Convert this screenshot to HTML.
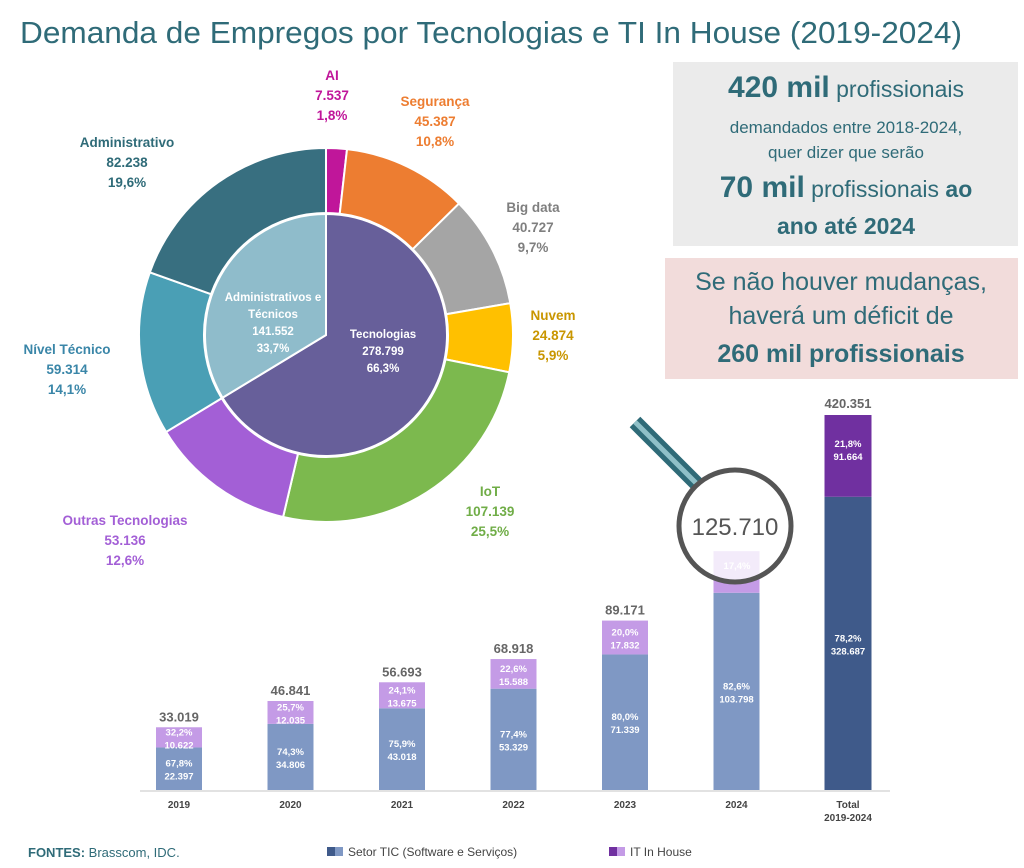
<!DOCTYPE html>
<html><head><meta charset="utf-8"><style>
body{margin:0;background:#fff;font-family:"Liberation Sans",sans-serif;}
#wrap{position:relative;width:1024px;height:868px;overflow:hidden;}
svg text{font-family:"Liberation Sans",sans-serif;}
</style></head><body>
<div id="wrap">
<svg id="svg" width="1024" height="868">
<text x="20" y="43" font-size="31" fill="#2f6b78" textLength="942" lengthAdjust="spacingAndGlyphs">Demanda de Empregos por Tecnologias e TI In House (2019-2024)</text>
<rect x="673" y="62" width="345" height="184" fill="#ebebeb"/>
<text x="846" y="97" text-anchor="middle" font-size="23" fill="#2f6b78"><tspan font-weight="bold" font-size="30">420 mil</tspan> profissionais</text>
<text x="846" y="133" text-anchor="middle" font-size="17" fill="#2f6b78">demandados entre 2018-2024,</text>
<text x="846" y="158" text-anchor="middle" font-size="17" fill="#2f6b78">quer dizer que serão</text>
<text x="846" y="197" text-anchor="middle" font-size="23" fill="#2f6b78"><tspan font-weight="bold" font-size="30">70 mil</tspan> profissionais <tspan font-weight="bold">ao</tspan></text>
<text x="846" y="234" text-anchor="middle" font-size="23" font-weight="bold" fill="#2f6b78">ano até 2024</text>
<rect x="665" y="258" width="353" height="121" fill="#f2dcdb"/>
<text x="841" y="290" text-anchor="middle" font-size="25" fill="#2f6b78">Se não houver mudanças,</text>
<text x="841" y="324" text-anchor="middle" font-size="25" fill="#2f6b78">haverá um déficit de</text>
<text x="841" y="362" text-anchor="middle" font-size="25" font-weight="bold" fill="#2f6b78">260 mil profissionais</text>
<line x1="140" y1="791" x2="890" y2="791" stroke="#d9d9d9" stroke-width="1.5"/>
<text x="28" y="857" font-size="13" fill="#2f6b78"><tspan font-weight="bold">FONTES:</tspan> Brasscom, IDC.</text>
<rect x="327" y="847" width="8" height="9" fill="#3f5a8a"/>
<rect x="335" y="847" width="8" height="9" fill="#7f98c4"/>
<text x="348" y="856" font-size="12" fill="#444">Setor TIC (Software e Serviços)</text>
<rect x="609" y="847" width="8" height="9" fill="#7030a0"/>
<rect x="617" y="847" width="8" height="9" fill="#c49be6"/>
<text x="630" y="856" font-size="12" fill="#444">IT In House</text>
<g id="donut"></g><g id="bars"></g>
</svg>
</div>
<script>
const ringLabels=["AI","Segurança","Big data","Nuvem","IoT","Outras Tecnologias","Nível Técnico","Administrativo"];
const ringValues=[7537,45387,40727,24874,107139,53136,59314,82238];
const ringPcts=["1,8%","10,8%","9,7%","5,9%","25,5%","12,6%","14,1%","19,6%"];
const innerLabels=["Tecnologias","Administrativos e Técnicos"];
const innerValues=[278799,141552];
const innerPcts=["66,3%","33,7%"];
const years=["2019","2020","2021","2022","2023","2024"];
const ticValues=[22397,34806,43018,53329,71339,103798];
const itValues=[10622,12035,13675,15588,17832,21912];
const yearTotals=[33019,46841,56693,68918,89171,125710];
const ticPcts=["67,8%","74,3%","75,9%","77,4%","80,0%","82,6%"];
const itPcts=["32,2%","25,7%","24,1%","22,6%","20,0%","17,4%"];
const totalTic=328687, totalIt=91664, grandTotal=420351;
const NS="http://www.w3.org/2000/svg";
function el(t,a,p){const e=document.createElementNS(NS,t);for(const k in a)e.setAttribute(k,a[k]);p.appendChild(e);return e;}
const fmt=v=>String(v).replace(/\B(?=(\d{3})+(?!\d))/g,".");
const cx=326,cy=335,rIn=121,r0=122,r1=187;
function pt(r,a){return [cx+r*Math.sin(a),cy-r*Math.cos(a)];}
function arc(ri,ro,a0,a1){const L=a1-a0>Math.PI?1:0;const[p0,p1]=[pt(ro,a0),pt(ro,a1)];
 if(ri<=0){return `M${cx},${cy}L${p0}A${ro},${ro} 0 ${L} 1 ${p1}Z`;}
 const[q0,q1]=[pt(ri,a1),pt(ri,a0)];return `M${p0}A${ro},${ro} 0 ${L} 1 ${p1}L${q0}A${ri},${ri} 0 ${L} 0 ${q1}Z`;}
const dg=document.getElementById('donut');
const ringColors=["#c0169a","#ed7d31","#a5a5a5","#ffc000","#7cb94e","#a35fd6","#4a9fb5","#386f80"];
const ringTextColors=["#c0169a","#ed7d31","#7f7f7f","#c99600","#70ad47","#a35fd6","#3a86a8","#2f6b78"];
const labelPos=[[332,80],[435,106],[533,212],[553,320],[490,496],[125,525],[67,354],[127,147]];
let tot=ringValues.reduce((a,b)=>a+b,0),acc=0;
ringValues.forEach((v,i)=>{const a0=acc/tot*2*Math.PI;acc+=v;const a1=acc/tot*2*Math.PI;
 const p=el('path',{d:arc(r0,r1,a0,a1),fill:ringColors[i],stroke:"#fff","stroke-width":2},dg);
 
 
 const [x,y]=labelPos[i];
 const t=el('text',{x:x,y:y,"text-anchor":"middle","font-size":13.5,"font-weight":"bold",fill:ringTextColors[i]},dg);
 
 
 [ringLabels[i],fmt(v),ringPcts[i]].forEach((s,j)=>{const ts=el('tspan',{x:x,dy:j?20:0},t);ts.textContent=s;});
});
const innerColors=["#675f9a","#8fbccb"];
let itot=innerValues[0]+innerValues[1];acc=0;
innerValues.forEach((v,i)=>{const a0=acc/itot*2*Math.PI;acc+=v;const a1=acc/itot*2*Math.PI;
 const p=el('path',{d:arc(0,rIn,a0,a1),fill:innerColors[i],stroke:"#fff","stroke-width":2},dg);
 
 });
[[383,338,[innerLabels[0],fmt(innerValues[0]),innerPcts[0]]],[273,301,["Administrativos e","Técnicos",fmt(innerValues[1]),innerPcts[1]]]].forEach((d,i)=>{
 const t=el('text',{x:d[0],y:d[1],"text-anchor":"middle","font-size":11.5,"font-weight":"bold",fill:"#fff"},dg);
 
 
 d[2].forEach((s,j)=>{const ts=el('tspan',{x:d[0],dy:j?17:0},t);ts.textContent=s;});});
const bg=document.getElementById('bars');
const base=790,k=0.0019,bw=46;
const xc=i=>179+i*111.5;
years.forEach((yr,i)=>{
 const x=xc(i)-bw/2,h1=ticValues[i]*k,h2=itValues[i]*k;
 const b1=el('rect',{x:x,y:base-h1,width:bw,height:h1,fill:"#7f98c4"},bg);
 
 const b2=el('rect',{x:x,y:base-h1-h2,width:bw,height:h2,fill:"#c49be6"},bg);
 
 const f={"text-anchor":"middle","font-size":9.5,"font-weight":"bold",fill:"#fff"};
 const mid1=base-h1/2;
 const t1=el('text',Object.assign({x:xc(i),y:mid1-2},f),bg);t1.textContent=ticPcts[i];
 
 const t2=el('text',Object.assign({x:xc(i),y:mid1+11},f),bg);t2.textContent=fmt(ticValues[i]);
 
 if(i<5){const m2=base-h1-h2/2;
  const t3=el('text',Object.assign({x:xc(i),y:m2-2},f),bg);t3.textContent=itPcts[i];
  
  const t4=el('text',Object.assign({x:xc(i),y:m2+11},f),bg);t4.textContent=fmt(itValues[i]);
  
  const tt=el('text',{x:xc(i),y:base-h1-h2-6,"text-anchor":"middle","font-size":13,"font-weight":"bold",fill:"#666"},bg);
  tt.textContent=fmt(yearTotals[i]);}
 const yl=el('text',{x:xc(i),y:808,"text-anchor":"middle","font-size":10,"font-weight":"bold",fill:"#444"},bg);
 yl.textContent=yr;
});
const kt=375/(totalTic+totalIt),tx=848,tw=47;
const th1=totalTic*kt,th2=totalIt*kt;
const tb1=el('rect',{x:tx-tw/2,y:base-th1,width:tw,height:th1,fill:"#3f5a8a"},bg);

const tb2=el('rect',{x:tx-tw/2,y:base-th1-th2,width:tw,height:th2,fill:"#7030a0"},bg);

[[base-th1/2-2,"78,2%"],[base-th1/2+11,fmt(totalTic)],[base-th1-th2+32,"21,8%"],[base-th1-th2+45,fmt(totalIt)]].forEach((d,j)=>{
 const t=el('text',{x:tx,y:d[0],"text-anchor":"middle","font-size":9.5,"font-weight":"bold",fill:"#fff"},bg);t.textContent=d[1];
 });
const tl=el('text',{x:tx,y:base-th1-th2-7,"text-anchor":"middle","font-size":13,"font-weight":"bold",fill:"#666"},bg);
tl.textContent=fmt(grandTotal);
[["Total",808],["2019-2024",821]].forEach(d=>{const t=el('text',{x:tx,y:d[1],"text-anchor":"middle","font-size":10,"font-weight":"bold",fill:"#444"},bg);t.textContent=d[0];
 });
const mg=el('g',{},bg);
el('line',{x1:635,y1:422,x2:697,y2:484,stroke:"#2f6b78","stroke-width":15,"stroke-linecap":"butt"},mg);
el('line',{x1:635,y1:422,x2:697,y2:484,stroke:"#8fc0c8","stroke-width":5},mg);
el('circle',{cx:735,cy:526,r:56,fill:"rgba(255,255,255,0.8)",stroke:"#555","stroke-width":5},mg);
const mt=el('text',{x:735,y:535,"text-anchor":"middle","font-size":24,fill:"#555"},mg);mt.textContent=fmt(yearTotals[5]);

const mp=el('text',{x:737,y:569,"text-anchor":"middle","font-size":9.5,"font-weight":"bold",fill:"#fff"},mg);mp.textContent=itPcts[5];

</script>
</body></html>
